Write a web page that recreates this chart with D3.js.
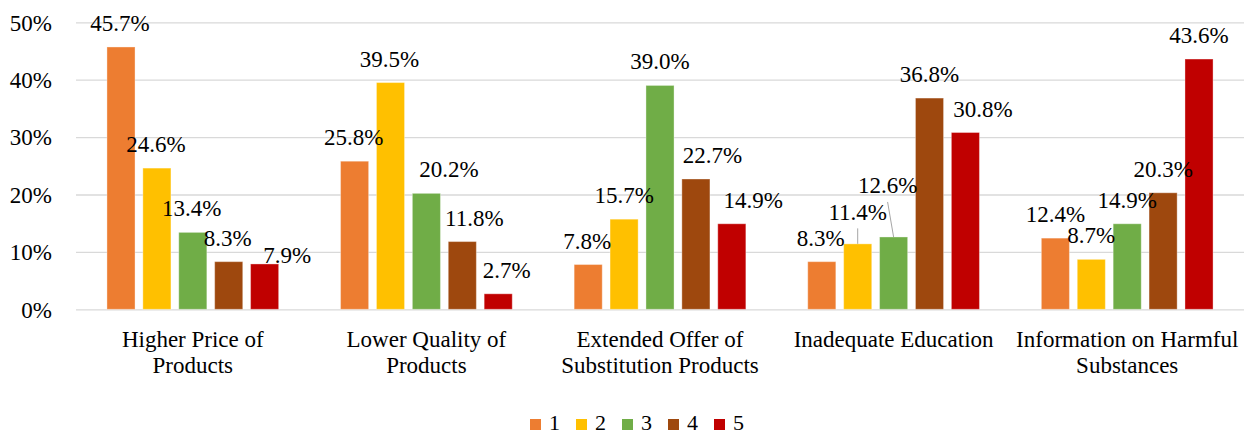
<!DOCTYPE html>
<html><head><meta charset="utf-8">
<script src="https://cdn.jsdelivr.net/npm/d3@7"></script>
<style>body{margin:0;background:#fff}svg{display:block}svg text{font-family:"Liberation Serif","Tinos","Noto Serif","Nimbus Roman","Nimbus Roman No9 L","FreeSerif","Times New Roman",Times,"DejaVu Serif",serif}</style>
</head><body><svg id="c" width="1249" height="436"></svg>
<script>
// ---- data ----
const categories = ["Higher Price of\nProducts", "Lower Quality of\nProducts", "Extended Offer of\nSubstitution Products", "Inadequate Education", "Information on Harmful\nSubstances"];
const seriesNames = ["1", "2", "3", "4", "5"];
const series1 = [45.7, 25.8, 7.8, 8.3, 12.4];
const series2 = [24.6, 39.5, 15.7, 11.4, 8.7];
const series3 = [13.4, 20.2, 39.0, 12.6, 14.9];
const series4 = [8.3, 11.8, 22.7, 36.8, 20.3];
const series5 = [7.9, 2.7, 14.9, 30.8, 43.6];
const yTicks = [0, 10, 20, 30, 40, 50];
const yTickLabels = ["0%", "10%", "20%", "30%", "40%", "50%"];

// ---- styles / label placement ----
const colors = ["#ED7D31", "#FFC000", "#70AD47", "#9E480E", "#C00000"];
const labelDx = [
  [-1, -1, -1, -1, 0],
  [-1, -1, 0, 0, 0],
  [-1, 22.5, 0, -6, 0],
  [-1, 12, 16.5, 0, 0],
  [22.5, 8.5, 21.5, 17.5, 0]
];
const labelDy = [
  [0, 0, 0, 0, 0],
  [0, 0, 0, -8, 0],
  [0, 0, 0, -27.5, 0],
  [0, 0, 0, 0, 0],
  [15, 0, 0, 0, 0]
];

const allSeries = [series1, series2, series3, series4, series5];
const plotLeft = 76, plotRight = 1244, plotTop = 22.3, plotBottom = 309.3;

const svg = d3.select("#c");
const x0 = d3.scaleBand().domain(d3.range(categories.length)).range([plotLeft, plotRight]).padding(0);
const x1 = d3.scaleBand().domain(d3.range(seriesNames.length))
  .range([x0.bandwidth() / 2 - 85.85, x0.bandwidth() / 2 + 85.85]).paddingInner(0.218).paddingOuter(0);
const y = d3.scaleLinear().domain([0, 50]).range([plotBottom, plotTop]);

// gridlines
const yAxis = d3.axisLeft(y).tickValues(yTicks).tickSize(-(plotRight - plotLeft)).tickFormat((d, i) => yTickLabels[i]).tickPadding(24);
const ga = svg.append("g").attr("transform", `translate(${plotLeft},0)`).call(yAxis);
ga.attr("font-family", null).attr("font-size", null);
ga.select(".domain").remove();
ga.selectAll(".tick line").attr("stroke", "#d9d9d9").attr("stroke-width", 1.3);
ga.selectAll(".tick text").style("font-size", "23px").attr("fill", "#000").attr("dy", "0.34em");

// bars
const groups = svg.append("g").selectAll("g").data(categories).join("g")
  .attr("transform", (d, i) => `translate(${x0(i)},0)`);
groups.selectAll("rect").data((d, ci) => allSeries.map((s, si) => ({ si, ci, v: s[ci] }))).join("rect")
  .attr("x", d => x1(d.si))
  .attr("width", x1.bandwidth())
  .attr("y", d => y(d.v))
  .attr("height", d => y(0) - y(d.v))
  .attr("fill", d => colors[d.si])
  .attr("stroke", "#fff").attr("stroke-opacity", 0.35).attr("stroke-width", 1);

// leader lines and labels
const labelData = [];
allSeries.forEach((s, si) => s.forEach((v, ci) => {
  const bx = x0(ci) + x1(si) + x1.bandwidth() / 2;
  labelData.push({ si, ci, v, bx, by: y(v), lx: bx + labelDx[si][ci], ly: y(v) - 16 + labelDy[si][ci] });
}));
svg.append("g").selectAll("line").data(labelData.filter(d => labelDy[d.si][d.ci] < -4)).join("line")
  .attr("x1", d => d.lx).attr("y1", d => d.ly + 8.5)
  .attr("x2", d => d.bx).attr("y2", d => d.by)
  .attr("stroke", "#a6a6a6").attr("stroke-width", 1);
svg.append("g").selectAll("text").data(labelData).join("text")
  .attr("x", d => d.lx).attr("y", d => d.ly)
  .attr("text-anchor", "middle")
  .style("font-size", "23px").attr("fill", "#000")
  .text(d => d.v.toFixed(1) + "%");

// category labels
const cat = svg.append("g").selectAll("text").data(categories).join("text")
  .attr("text-anchor", "middle")
  .style("font-size", "23px").attr("fill", "#000")
  .attr("transform", (d, i) => `translate(${x0(i) + x0.bandwidth() / 2},346.7)`);
cat.selectAll("tspan").data(d => d.split("\n")).join("tspan")
  .attr("x", 0).attr("y", (d, i) => i * 26.6).text(d => d);

// legend
const leg = svg.append("g").selectAll("g").data(seriesNames).join("g")
  .attr("transform", (d, i) => `translate(${530 + i * 46},0)`);
leg.append("rect").attr("x", 0).attr("y", 419).attr("width", 11).attr("height", 11).attr("fill", (d, i) => colors[i]);
leg.append("text").attr("x", 19).attr("y", 430).style("font-size", "22px").attr("fill", "#000").text(d => d);
</script></body></html>
